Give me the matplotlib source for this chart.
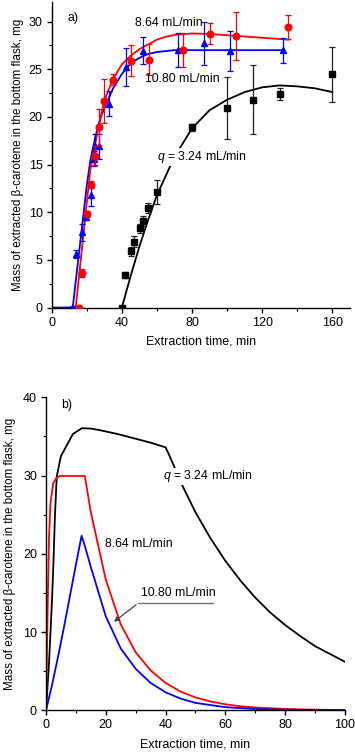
import matplotlib
matplotlib.use("Agg")
import matplotlib.pyplot as plt
from matplotlib.ticker import MultipleLocator

plt.rcParams['font.family'] = ['Liberation Sans', 'DejaVu Sans']
plt.rcParams['mathtext.fontset'] = 'custom'
plt.rcParams['mathtext.it'] = 'Liberation Sans:italic'
plt.rcParams['mathtext.rm'] = 'Liberation Sans'

# ---------------- Panel a: experimental data ----------------
# q = 3.24 mL/min (black squares)
a_black_x = [40, 42, 45, 47, 50.1, 51.8, 55, 60.2, 80.2, 99.8, 114.9, 129.9, 159.6]
a_black_y = [0.0, 3.4, 5.9, 6.9, 8.3, 9.1, 10.45, 12.1, 18.9, 20.9, 21.8, 22.4, 24.45]
a_black_e = [0.1, 0.3, 0.5, 0.6, 0.5, 0.5, 0.5, 1.25, 0.4, 3.25, 3.6, 0.65, 2.9]
# 8.64 mL/min (red circles)
a_red_x = [15.5, 17.1, 20.0, 22.3, 24.7, 27.2, 29.9, 35.2, 45.1, 55.2, 75.0, 90.0, 104.8, 134.9]
a_red_y = [0.0, 3.6, 9.8, 12.9, 15.9, 18.9, 21.65, 23.9, 25.9, 26.0, 27.0, 28.7, 28.5, 29.4]
a_red_e = [0.2, 0.4, 0.3, 0.4, 1.0, 1.9, 2.3, 0.6, 1.6, 1.6, 1.75, 1.1, 2.5, 1.27]
# 10.80 mL/min (blue triangles)
a_blue_x = [12.0, 13.9, 17.3, 19.6, 22.5, 24.1, 24.5, 27.2, 32.4, 42.4, 52.0, 72.0, 86.8, 101.9, 131.8]
a_blue_y = [0.0, 5.6, 7.9, 9.5, 11.8, 15.6, 16.9, 16.9, 21.4, 25.2, 26.95, 27.0, 27.7, 26.96, 27.0]
a_blue_e = [0.2, 0.4, 0.9, 0.3, 1.2, 0.8, 1.3, 1.3, 1.3, 2.0, 1.43, 1.75, 2.3, 2.1, 1.3]

# fitted curves
fit_black_x = [40, 45, 50, 55, 60, 70, 80, 90, 100, 110, 120, 130, 140, 150, 160]
fit_black_y = [0.0, 3.3, 6.4, 9.2, 11.8, 15.8, 18.8, 20.7, 21.8, 22.6, 23.1, 23.3, 23.2, 23.0, 22.6]
fit_red_x = [13.7, 16, 18, 20, 22, 25, 28, 30, 35, 40, 45, 50, 55, 60, 65, 70, 80, 90, 135]
fit_red_y = [0.0, 4.0, 7.5, 11.0, 14.4, 17.4, 20.0, 21.7, 24.0, 25.5, 26.4, 27.1, 27.6, 28.1, 28.4, 28.6, 28.75, 28.7, 28.1]
fit_blue_x = [0, 12, 14, 16, 18, 20, 22, 25, 28, 32.4, 35, 40, 45, 50, 55, 60, 70, 132]
fit_blue_y = [0, 0.0, 3.2, 6.4, 9.6, 12.8, 15.4, 18.0, 20.0, 21.9, 23.0, 24.5, 25.6, 26.2, 26.6, 26.8, 27.0, 27.0]

# ---------------- Panel b: model curves ----------------
b_black_x = [0, 1, 2, 2.5, 3, 3.6, 5, 7, 9, 12, 15, 18, 24, 30, 35, 40, 41, 42.6, 45, 50, 55, 60, 65, 70, 75, 80, 85, 90, 95, 100]
b_black_y = [0, 6, 14, 19, 25, 29.9, 32.5, 33.9, 35.3, 36.05, 36.0, 35.8, 35.3, 34.7, 34.2, 33.6, 32.8, 31.4, 29.2, 25.3, 22.0, 19.1, 16.6, 14.4, 12.5, 10.9, 9.5, 8.2, 7.2, 6.2]
b_red_x = [0, 0.5, 1, 1.5, 2.4, 3.5, 4.7, 13, 15, 20, 25, 30, 35, 40, 45, 50, 55, 60, 65, 70, 80, 90, 100]
b_red_y = [0, 12, 22, 26.5, 29.0, 29.7, 29.95, 29.95, 25.3, 16.7, 11.0, 7.4, 5.1, 3.5, 2.4, 1.65, 1.13, 0.77, 0.52, 0.36, 0.17, 0.08, 0.04]
b_blue_x = [0, 2, 4, 6, 8, 10, 11.9, 13, 15, 20, 25, 30, 35, 40, 45, 50, 60, 70, 80, 100]
b_blue_y = [0, 3.2, 6.8, 10.6, 14.6, 18.6, 22.3, 21.0, 18.3, 12.0, 7.9, 5.3, 3.5, 2.3, 1.5, 0.95, 0.4, 0.17, 0.07, 0.01]

RED = '#ff0000'
BLUE = '#0000ff'
FS = 9
YFS = 8.4
AFS = 8.8

fig = plt.figure(figsize=(3.55, 7.55), dpi=100)
axa = fig.add_axes([0.1456, 0.5927, 0.840, 0.404])
axb = fig.add_axes([0.1296, 0.0592, 0.842, 0.4146])

ylabel = 'Mass of extracted β-carotene in the bottom flask, mg'

def style(ax):
    for s in ['top', 'right']:
        ax.spines[s].set_visible(False)
    for s in ['left', 'bottom']:
        ax.spines[s].set_linewidth(1.0)
    ax.tick_params(which='major', direction='out', length=3.5, width=1.0, labelsize=FS, pad=3)
    ax.tick_params(which='minor', direction='out', length=2, width=0.8)

# Panel a
axa.plot(fit_black_x, fit_black_y, color='black', lw=1.3, zorder=2)
axa.plot(fit_blue_x, fit_blue_y, color=BLUE, lw=1.3, zorder=2)
axa.plot(fit_red_x, fit_red_y, color=RED, lw=1.3, zorder=2)
axa.errorbar(a_black_x, a_black_y, yerr=a_black_e, fmt='s', color='black', ms=4.2,
             ecolor='#222222', elinewidth=0.9, capsize=2.2, capthick=0.9, zorder=3)
axa.errorbar(a_blue_x, a_blue_y, yerr=a_blue_e, fmt='^', color=BLUE, ms=5,
             ecolor=BLUE, elinewidth=0.9, capsize=2.2, capthick=0.9, zorder=3)
axa.errorbar(a_red_x, a_red_y, yerr=a_red_e, fmt='o', color=RED, ms=4.8,
             ecolor=RED, elinewidth=0.9, capsize=2.2, capthick=0.9, zorder=4)
axa.set_xlim(0, 170)
axa.set_ylim(0, 32)
axa.xaxis.set_major_locator(MultipleLocator(40))
axa.xaxis.set_minor_locator(MultipleLocator(20))
axa.yaxis.set_major_locator(MultipleLocator(5))
axa.yaxis.set_minor_locator(MultipleLocator(2.5))
style(axa)
axa.set_xlabel('Extraction time, min', fontsize=FS, labelpad=5)
axa.set_ylabel(ylabel, fontsize=YFS, labelpad=3)
axa.text(12.2, 30.4, 'a)', fontsize=AFS, ha='center', va='center')
axa.text(66.5, 29.9, '8.64 mL/min', fontsize=AFS, ha='center', va='center', zorder=6)
axa.text(74.7, 24.0, '10.80 mL/min', fontsize=AFS, ha='center', va='center', zorder=6)
axa.text(85.6, 15.8, '$q$ = 3.24 mL/min', fontsize=AFS, ha='center', va='center', zorder=6,
         bbox=dict(facecolor='white', edgecolor='none', pad=0.5))

# Panel b
axb.plot(b_black_x, b_black_y, color='black', lw=1.3)
axb.plot(b_red_x, b_red_y, color=RED, lw=1.3)
axb.plot(b_blue_x, b_blue_y, color=BLUE, lw=1.3)
axb.set_xlim(0, 100)
axb.set_ylim(0, 40)
axb.xaxis.set_major_locator(MultipleLocator(20))
axb.xaxis.set_minor_locator(MultipleLocator(10))
axb.yaxis.set_major_locator(MultipleLocator(10))
axb.yaxis.set_minor_locator(MultipleLocator(5))
style(axb)
axb.set_xlabel('Extraction time, min', fontsize=FS, labelpad=5)
axb.set_ylabel(ylabel, fontsize=YFS, labelpad=5)
axb.text(7.0, 39.0, 'b)', fontsize=AFS, ha='center', va='center')
axb.text(54.0, 29.9, '$q$ = 3.24 mL/min', fontsize=AFS, ha='center', va='center', zorder=6,
         bbox=dict(facecolor='white', edgecolor='none', pad=0.5))
axb.text(31.1, 21.3, '8.64 mL/min', fontsize=AFS, ha='center', va='center')
axb.text(44.2, 15.0, '10.80 mL/min', fontsize=AFS, ha='center', va='center')
axb.plot([30.9, 55.9], [13.7, 13.7], color='0.45', lw=1.0)
axb.annotate('', xy=(22.0, 11.1), xytext=(30.9, 13.7),
             arrowprops=dict(arrowstyle='-|>', color='0.25', lw=0.9, mutation_scale=7))

fig.savefig('out.png', dpi=100)
